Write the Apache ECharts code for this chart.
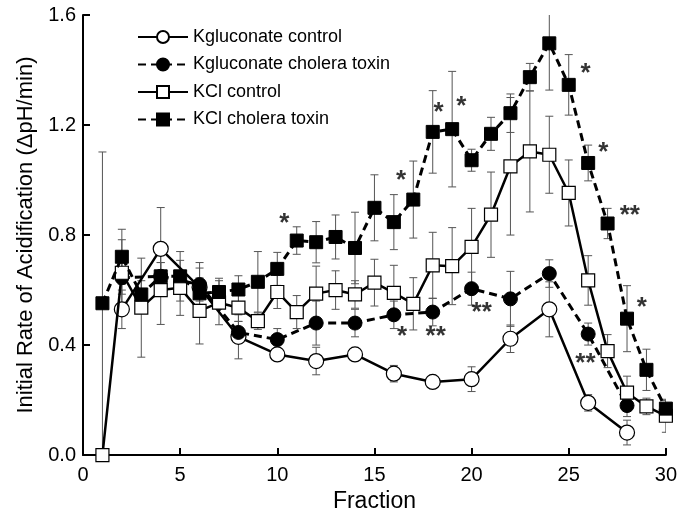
<!DOCTYPE html>
<html>
<head>
<meta charset="utf-8">
<script src="https://cdn.jsdelivr.net/npm/echarts@6/dist/echarts.min.js"></script>
<style>html,body{margin:0;padding:0;background:#fff}#c{width:680px;height:518px}</style>
</head>
<body>
<div id="c"></div>
<script>
// ---- data ----
const evenFractions = [2,4,6,8,10,12,14,16,18,20,22,24,26,28];
const allFractions = [1,2,3,4,5,6,7,8,9,10,11,12,13,14,15,16,17,18,19,20,21,22,23,24,25,26,27,28,29,30];

const kgluControl = [0.53,0.75,0.61,0.43,0.366,0.342,0.366,0.296,0.266,0.276,0.423,0.53,0.19,0.082];
const kgluControlErr = [0.07,0.15,0.09,0.08,0.02,0.05,0.02,0.03,0.02,0.045,0.05,0.1,0.03,0.045];

const kgluToxin = [0.645,0.65,0.62,0.446,0.42,0.48,0.48,0.51,0.52,0.605,0.568,0.66,0.44,0.18];
const kgluToxinErr = [0.06,0.05,0.06,0.04,0.04,0.08,0.05,0.05,0.05,0.06,0.1,0.05,0.04,0.04];

const kclControl = [0.0,0.663,0.536,0.60,0.608,0.524,0.554,0.536,0.487,0.593,0.52,0.587,0.60,0.584,0.627,0.59,0.55,0.69,0.687,0.757,0.874,1.05,1.104,1.092,0.953,0.635,0.378,0.227,0.177,0.143];
const kclControlErr = [0,0.12,0.18,0.125,0.1,0.12,0.08,0.05,0.03,0.06,0.06,0.1,0.07,0.05,0.085,0.1,0.095,0.12,0.14,0.14,0.155,0.25,0.22,0.14,0.12,0.09,0.06,0.06,0.03,0.06];

const kclToxin = [0.552,0.721,0.584,0.65,0.65,0.588,0.593,0.602,0.63,0.677,0.78,0.774,0.793,0.753,0.899,0.847,0.929,1.175,1.185,1.072,1.168,1.243,1.374,1.497,1.346,1.062,0.842,0.496,0.31,0.169];
const kclToxinErr = [0.55,0.1,0.05,0.05,0.09,0.04,0.05,0.05,0.11,0.06,0.05,0.075,0.08,0.13,0.12,0.1,0.14,0.15,0.21,0.04,0.06,0.07,0.05,0.17,0.11,0.065,0.055,0.12,0.075,0.03];

// significance markers
const sigX = [10.31,16.32,18.25,19.42,25.81,26.73,28.09,28.71,25.81,16.37,18.10,20.47];
const sigY = [0.856,1.012,1.259,1.279,1.401,1.112,0.886,0.550,0.348,0.443,0.445,0.530];
const sigText = ['*','*','*','*','*','*','**','*','**','*','**','**'];

const names = ['Kgluconate control','Kgluconate cholera toxin','KCl control','KCl cholera toxin'];
const xTicks = [0,5,10,15,20,25,30];
const yTicks = [0.0,0.4,0.8,1.2,1.6];

// ---- build ----
const FONT = 'Liberation Sans, Arial, Helvetica, sans-serif';
function pts(xs, ys){ return xs.map((x,i)=>[x, ys[i]]); }
function errs(xs, ys, es){ return xs.map((x,i)=>[x, ys[i]-es[i], ys[i]+es[i]]); }

function errSeries(data){
  return {
    type:'custom', clip:true, z:1, silent:true,
    data: data,
    encode:{x:0, y:[1,2]},
    renderItem:function(params, api){
      const x = api.value(0);
      const lo = api.coord([x, api.value(1)]);
      const hi = api.coord([x, api.value(2)]);
      const w = 4;
      const st = {stroke:'#555', lineWidth:1};
      return {type:'group', children:[
        {type:'line', shape:{x1:lo[0],y1:lo[1],x2:hi[0],y2:hi[1]}, style:st},
        {type:'line', shape:{x1:lo[0]-w,y1:lo[1],x2:lo[0]+w,y2:lo[1]}, style:st},
        {type:'line', shape:{x1:hi[0]-w,y1:hi[1],x2:hi[0]+w,y2:hi[1]}, style:st}
      ]};
    }
  };
}

const dash = [8,5];
const option = {
  animation:false,
  backgroundColor:'#fff',
  textStyle:{fontFamily:FONT},
  grid:{left:83, right:4, top:15, bottom:62, containLabel:false},
  legend:{
    data:names, orient:'vertical', left:132, top:23,
    itemWidth:50, itemHeight:15, itemGap:9.5,
    textStyle:{fontSize:18, color:'#000', fontFamily:FONT}
  },
  xAxis:{
    type:'value', min:xTicks[0], max:xTicks[xTicks.length-1], interval:5,
    name:'Fraction', nameLocation:'middle', nameGap:33,
    nameTextStyle:{fontSize:23, color:'#000', fontFamily:FONT},
    axisLine:{lineStyle:{color:'#000', width:2}},
    axisTick:{inside:true, length:7, lineStyle:{color:'#000', width:2}},
    axisLabel:{fontSize:20, color:'#000', margin:10, fontFamily:FONT},
    splitLine:{show:false}
  },
  yAxis:{
    type:'value', min:yTicks[0], max:yTicks[yTicks.length-1], interval:0.4,
    name:'Initial Rate of Acidification (\u0394pH/min)', nameLocation:'middle', nameGap:44,
    nameTextStyle:{fontSize:22, color:'#000', fontFamily:FONT},
    axisLine:{show:true, lineStyle:{color:'#000', width:2}},
    axisTick:{show:true, inside:true, length:7, lineStyle:{color:'#000', width:2}},
    axisLabel:{fontSize:20, color:'#000', margin:7, fontFamily:FONT, formatter:v=>v.toFixed(1)},
    splitLine:{show:false}
  },
  series:[
    errSeries(errs(evenFractions, kgluControl, kgluControlErr)),
    errSeries(errs(evenFractions, kgluToxin, kgluToxinErr)),
    errSeries(errs(allFractions, kclControl, kclControlErr)),
    errSeries(errs(allFractions, kclToxin, kclToxinErr)),
    {name:names[0], type:'line', z:3, clip:false, data:pts(evenFractions,kgluControl),
      symbol:'circle', symbolSize:15,
      lineStyle:{color:'#000', width:2.5},
      itemStyle:{color:'#fff', borderColor:'#000', borderWidth:1.2}},
    {name:names[1], type:'line', z:4, clip:false, data:pts(evenFractions,kgluToxin),
      symbol:'circle', symbolSize:14,
      lineStyle:{color:'#000', width:3, type:dash},
      itemStyle:{color:'#000', borderColor:'#000', borderWidth:1}},
    {name:names[2], type:'line', z:5, clip:false, data:pts(allFractions,kclControl),
      symbol:'rect', symbolSize:13,
      lineStyle:{color:'#000', width:2.5},
      itemStyle:{color:'#fff', borderColor:'#000', borderWidth:1.2}},
    {name:names[3], type:'line', z:6, clip:false, data:pts(allFractions,kclToxin),
      symbol:'rect', symbolSize:13,
      lineStyle:{color:'#000', width:3, type:dash},
      itemStyle:{color:'#000', borderColor:'#000', borderWidth:1}},
    {type:'scatter', z:7, silent:true, symbolSize:0,
      data:sigX.map((x,i)=>({value:[x, sigY[i]], label:{formatter:sigText[i]}})),
      label:{show:true, position:'inside', color:'#000', fontSize:26, fontWeight:'bold', fontFamily:FONT, offset:[1,4]}}
  ]
};
const chart = echarts.init(document.getElementById('c'), null, {renderer:'canvas'});
chart.setOption(option);
</script>
</body>
</html>
